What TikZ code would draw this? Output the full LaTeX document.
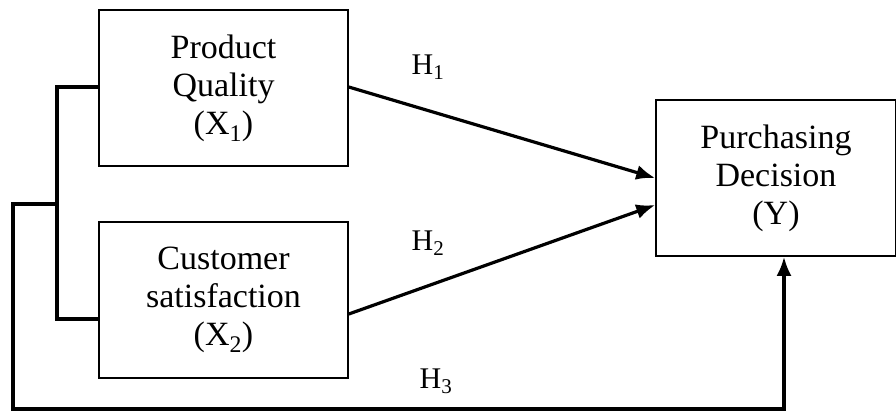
\documentclass[tikz,border=0pt]{standalone}
\usepackage{fontspec}
\setmainfont{Liberation Serif}
\usetikzlibrary{arrows.meta}
\begin{document}
\begin{tikzpicture}[x=1pt,y=-1pt,
  box/.style={draw,line width=1.6pt,align=center,font=\fontsize{34}{38}\selectfont,inner sep=0pt},
  conn/.style={line width=3.2pt},
  arr/.style={conn,-{Latex[length=19pt,width=15pt]}},
  lab/.style={font=\fontsize{30}{32}\selectfont}]
\useasboundingbox (0,0) rectangle (896,412);
\node[box,minimum width=249pt,minimum height=156pt] (pq) at (223.5,88) {Product\\Quality\\(X\textsubscript{1})};
\node[box,minimum width=249pt,minimum height=156pt] (cs) at (223.5,300) {Customer\\satisfaction\\(X\textsubscript{2})};
\node[box,minimum width=240pt,minimum height=156pt] (pd) at (776,178) {Purchasing\\Decision\\(Y)};
\coordinate (j) at (57,204);
\draw[conn] ([yshift=1pt]pq.west) -| (j) |- ([yshift=-19pt]cs.west);
\draw[arr] (j) -- (13,204) |- (784,409) -- (pd.south -| 784,0);
\draw[arr] ([yshift=1pt]pq.east) -- (pd.west);
\draw[arr] ([yshift=-14pt]cs.east) -- ([yshift=-27pt]pd.west);
\node[lab] (h1) at (428,67) {H\textsubscript{1}};
\node[lab] (h2) at (428,243) {H\textsubscript{2}};
\node[lab] (h3) at (436,381) {H\textsubscript{3}};
\end{tikzpicture}
\end{document}
